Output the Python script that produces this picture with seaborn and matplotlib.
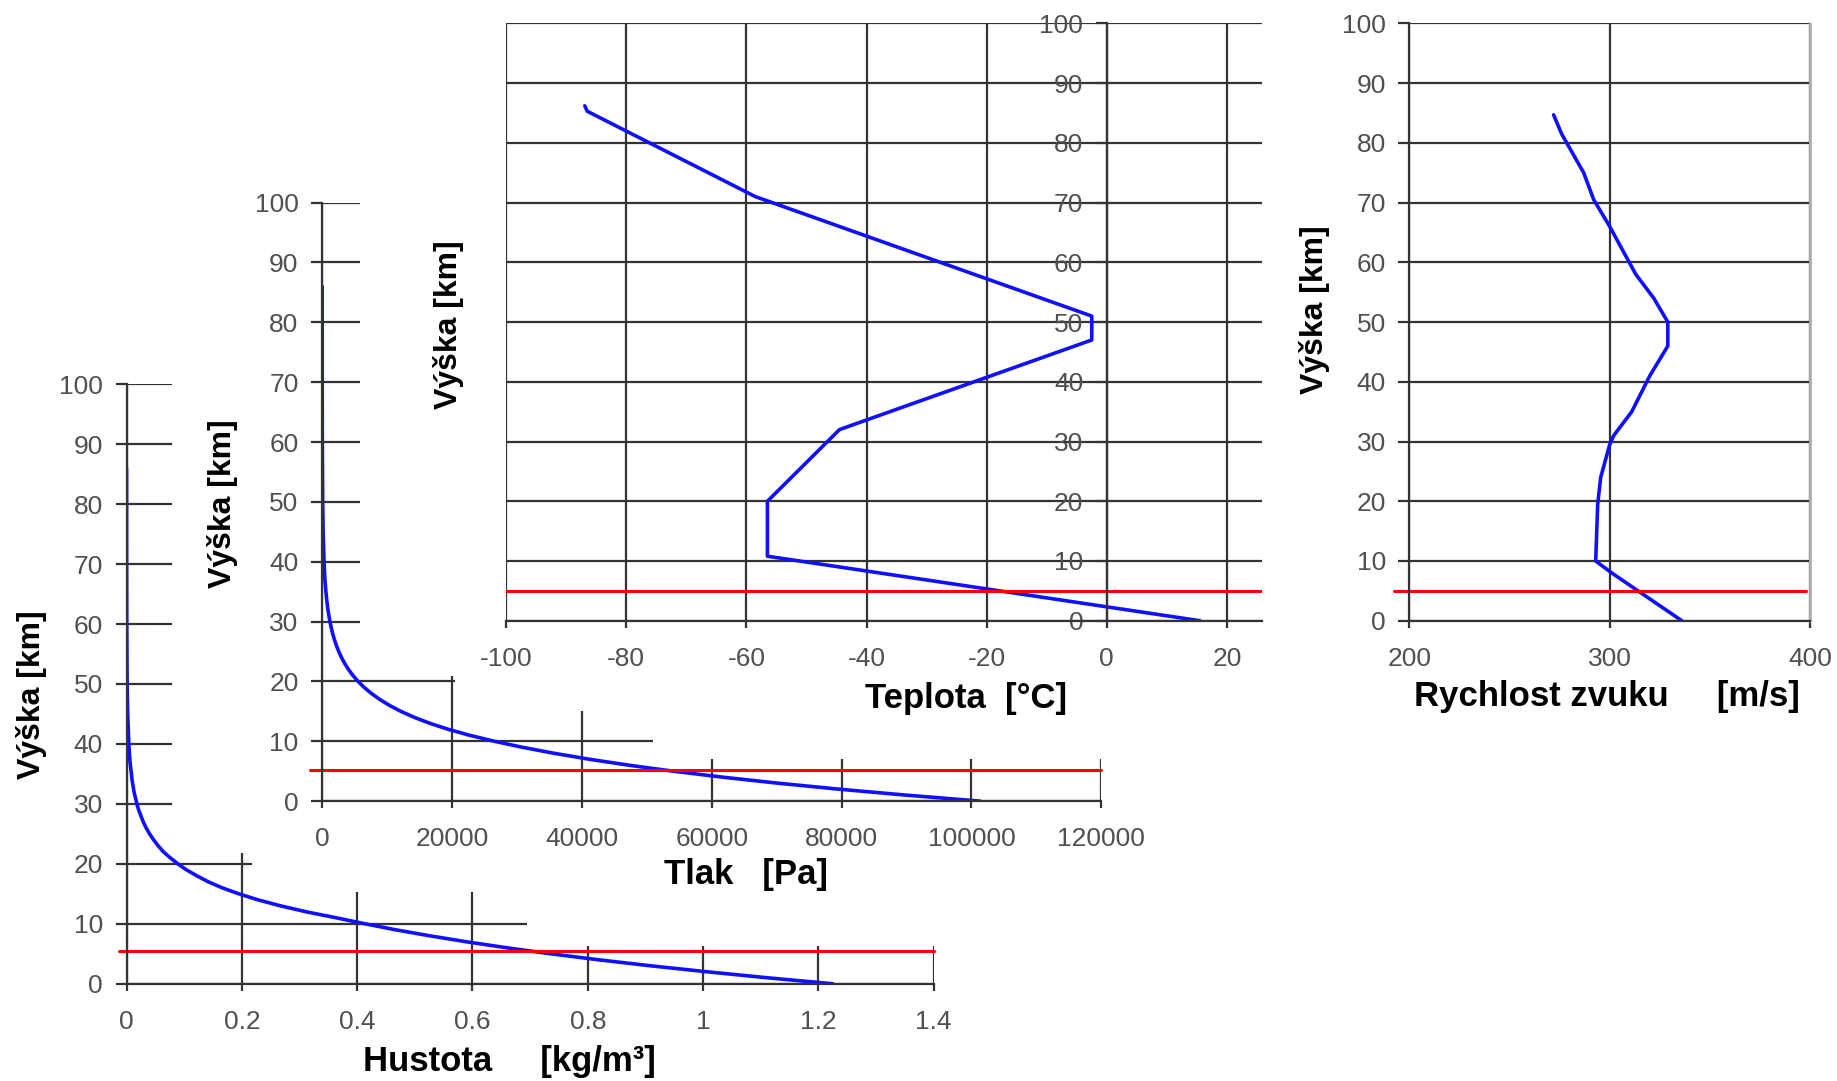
import matplotlib
matplotlib.use("Agg")
import matplotlib.pyplot as plt
import seaborn as sns
from matplotlib.patches import Polygon

# Data (altitude in km)
hust_km = [0, 1, 2, 3, 4, 5, 6, 7, 8, 9, 10, 11, 12, 13, 14, 15, 16, 17, 18, 19,
           20, 21, 22, 23, 24, 25, 26, 27, 28, 29, 30, 31, 32, 33, 34, 35, 37, 40,
           45, 50, 60, 70, 80, 86]
hust_val = [1.225, 1.112, 1.007, 0.909, 0.819, 0.736, 0.660, 0.590, 0.526, 0.467,
            0.414, 0.364, 0.312, 0.267, 0.228, 0.195, 0.166, 0.142, 0.122, 0.104,
            0.089, 0.076, 0.064, 0.055, 0.047, 0.040, 0.034, 0.029, 0.025, 0.021,
            0.018, 0.0155, 0.013, 0.0113, 0.0096, 0.0085, 0.006, 0.004,
            0.002, 0.001, 0.0003, 0.0001, 0.00002, 0.000007]

tlak_km = [0, 1, 2, 3, 4, 5, 6, 7, 8, 9, 10, 11, 12, 13, 14, 15, 16, 17, 18, 19,
           20, 21, 22, 23, 24, 25, 26, 27, 28, 29, 30, 31, 32, 33, 34, 35, 37, 40,
           45, 50, 60, 70, 80, 86]
tlak_val = [101325, 89876, 79501, 70121, 61660, 54048, 47217, 41105, 35651, 30800,
            26500, 22700, 19399, 16579, 14170, 12111, 10352, 8850, 7565, 6467,
            5529, 4729, 4047, 3467, 2972, 2549, 2188, 1880, 1616, 1390,
            1197, 1031, 889, 767, 663, 575, 420, 287,
            149, 80, 22, 5, 1, 0.4]

tepl_km = [0, 10.8, 20, 32, 47, 51, 71, 85.3, 86.2]
tepl_val = [15.5, -56.5, -56.5, -44.5, -2.5, -2.5, -58.5, -86.5, -86.9]

zvuk_km = [0, 8, 10, 19.5, 24, 29.5, 31, 35, 41, 46, 50, 54, 58, 66, 70.5, 75, 81.5, 84.7]
zvuk_val = [336, 301, 293, 294, 295.5, 300, 302, 311, 320, 329, 329, 322, 313, 300,
            292, 287, 276, 272]

# red reference heights [km]
hust_red = 5.4
tlak_red = 5.2
tepl_red = 5.0
zvuk_red = 5.0

vyska_ticks = [0, 10, 20, 30, 40, 50, 60, 70, 80, 90, 100]
hust_ticks = [0, 0.2, 0.4, 0.6, 0.8, 1.0, 1.2, 1.4]
hust_labels = ["0", "0.2", "0.4", "0.6", "0.8", "1", "1.2", "1.4"]
tlak_ticks = [0, 20000, 40000, 60000, 80000, 100000, 120000]
tepl_ticks = [-100, -80, -60, -40, -20, 0, 20]
zvuk_ticks = [200, 300, 400]

#%% Style
sns.set_style("white")
plt.rcParams["font.family"] = ["Liberation Sans", "DejaVu Sans"]

W, H = 1568, 923   # reference layout grid (shrunk reference pixels)
def box(x0, y0, x1, y1):
    return [x0 / W, 1 - y1 / H, (x1 - x0) / W, (y1 - y0) / H]

def pts(lst):
    return [(x / W, 1 - y / H) for x, y in lst]

grid_col = "#333333"
tick_col = "#505050"
blue = "#1010ff"
red = "#ff0000"

def style(ax, xticks, xlabels, xlim):
    ax.set_facecolor("none")
    ax.set_xlim(xlim)
    ax.set_ylim(0, 100)
    ax.set_xticks(xticks)
    ax.set_xticklabels(xlabels)
    ax.set_yticks(vyska_ticks)
    ax.grid(True, color=grid_col, lw=1.6)
    ax.set_axisbelow(True)
    for s in ["top", "right"]:
        ax.spines[s].set_visible(False)
    for s in ["left", "bottom"]:
        ax.spines[s].set_color(grid_col)
        ax.spines[s].set_linewidth(1.6)
    ax.tick_params(axis="both", direction="out", width=1.6, color=grid_col,
                   labelsize=19, labelcolor=tick_col, left=True, bottom=True)
    ax.tick_params(axis="y", length=8, pad=9)
    ax.tick_params(axis="x", length=5, pad=14)
    ax.set_xlabel("")
    ax.set_ylabel("")

def labels(ax, xl, xpos, yl, ypos):
    ax.text(xpos[0], xpos[1], xl, transform=ax.transAxes, ha="center", va="center",
            fontsize=25, fontweight="bold", color="black")
    ax.text(ypos[0], ypos[1], yl, transform=ax.transAxes, ha="center", va="center",
            rotation=90, fontsize=23, fontweight="bold", color="black")

def mask(fig, poly):
    m = fig.add_axes([0, 0, 1, 1])
    m.set_axis_off()
    m.set_facecolor("none")
    m.add_patch(Polygon(pts(poly), closed=True, facecolor="white", edgecolor="none",
                        transform=m.transAxes))

fig = plt.figure(figsize=(18.37, 10.81), dpi=100)

#%% Hustota
ax_h = fig.add_axes(box(108, 328, 797, 840))
style(ax_h, hust_ticks, hust_labels, (0, 1.4))
sns.lineplot(x=hust_val, y=hust_km, orient="y", color=blue, lw=2.6, ax=ax_h)
ax_h.axhline(hust_red, xmin=-0.009, xmax=1, color=red, lw=2.2, clip_on=False)
labels(ax_h, "Hustota     [kg/m³]", (0.474, -0.129), "Výška [km]", (-0.1176, 0.482))

mask(fig, [(147, 300), (840, 300), (840, 808), (450, 808), (450, 762),
           (215, 762), (215, 728), (147, 728)])

#%% Tlak
ax_p = fig.add_axes(box(275, 173, 940, 684))
style(ax_p, tlak_ticks, [str(t) for t in tlak_ticks], (0, 120000))
sns.lineplot(x=tlak_val, y=tlak_km, orient="y", color=blue, lw=2.6, ax=ax_p)
ax_p.axhline(tlak_red, xmin=-0.015, xmax=1, color=red, lw=2.2, clip_on=False)
labels(ax_p, "Tlak   [Pa]", (0.544, -0.123), "Výška [km]", (-0.128, 0.497))

mask(fig, [(307, 0), (1100, 0), (1100, 648), (557, 648), (557, 607),
           (388, 607), (388, 577), (307, 577)])

#%% Teplota
ax_t = fig.add_axes(box(432, 20, 1077, 530))
style(ax_t, tepl_ticks, [str(t) for t in tepl_ticks], (-100, 25.8))
ax_t.spines["left"].set_position(("data", 0))
sns.lineplot(x=tepl_val, y=tepl_km, orient="y", color=blue, lw=2.6, ax=ax_t)
ax_t.axhline(tepl_red, color=red, lw=2.2)
labels(ax_t, "Teplota  [°C]", (0.609, -0.131), "Výška [km]", (-0.076, 0.496))

#%% Rychlost zvuku
ax_s = fig.add_axes(box(1203, 20, 1545, 530))
style(ax_s, zvuk_ticks, [str(t) for t in zvuk_ticks], (200, 400))
ax_s.axvline(400, color="#b0b0b0", lw=2.0, clip_on=False)
sns.lineplot(x=zvuk_val, y=zvuk_km, orient="y", color=blue, lw=2.6, ax=ax_s)
ax_s.axhline(zvuk_red, xmin=-0.038, xmax=0.99, color=red, lw=2.2, clip_on=False)
labels(ax_s, "Rychlost zvuku     [m/s]", (0.494, -0.127), "Výška [km]", (-0.237, 0.52))

fig.savefig("out.png", dpi=100)
